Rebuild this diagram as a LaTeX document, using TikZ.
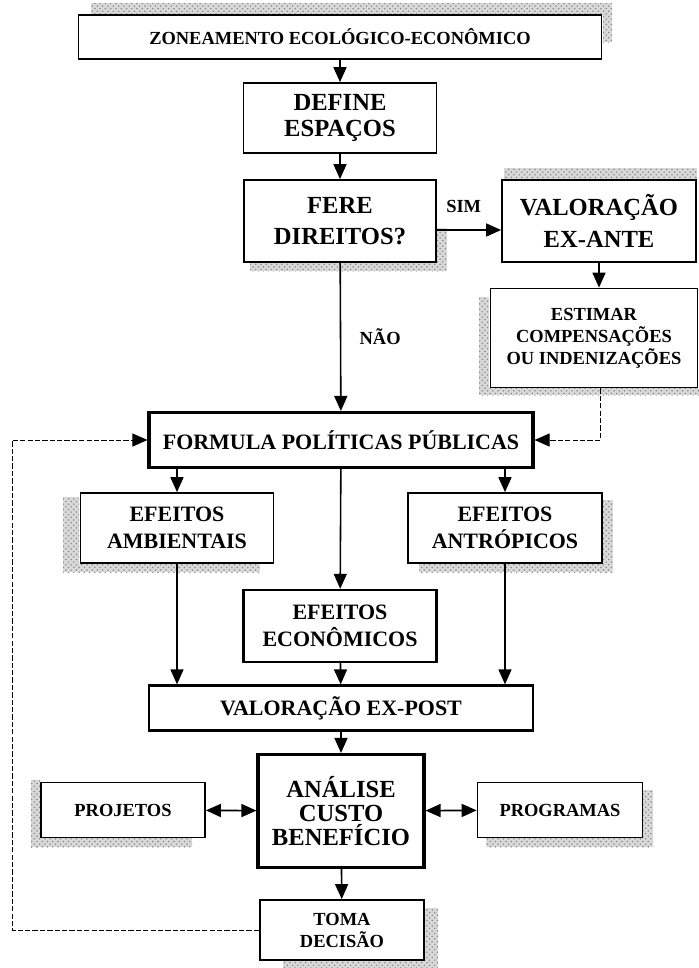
\documentclass[tikz,border=0pt]{standalone}
\usepackage{fontspec}
\setmainfont{Liberation Serif}
\usetikzlibrary{arrows.meta, patterns}

\newcommand{\bigtxt}{\fontsize{14}{15}\selectfont\bfseries}
\newcommand{\midtxt}{\fontsize{12.5}{15}\selectfont\bfseries}
\newcommand{\smalltxt}{\fontsize{10.5}{12.5}\selectfont\bfseries}

\begin{document}
\begin{tikzpicture}[x=0.02cm, y=-0.02cm,
    box/.style={draw, line width=1pt, align=center, inner sep=2pt, font=\midtxt},
    heavy/.style={box, line width=1.8pt},
    link/.style={line width=0.9pt, -{Triangle[length=3mm, width=2.6mm]}},
    twoway/.style={line width=0.9pt, {Triangle[length=3mm, width=2.6mm]}-{Triangle[length=3mm, width=2.6mm]}},
    feedback/.style={line width=0.5pt, dash pattern=on 3pt off 1.2pt, -{Triangle[length=3mm, width=2.6mm]}},
    grain/.style={fill=gray!30, postaction={pattern=crosshatch dots, pattern color=gray!90}}]
        \useasboundingbox (0,0) rectangle (699,968);
        % scanner grain round some of the boxes
        \fill[grain] (91,3) rectangle (612,15);
        \fill[grain] (603,15) rectangle (612,42);
        \fill[grain] (436,228) rectangle (447,270);
        \fill[grain] (250,263) rectangle (447,271);
        \fill[grain] (504,168) rectangle (697,179);
        \fill[grain] (479,297) rectangle (489,394);
        \fill[grain] (479,388) rectangle (699,395);
        \fill[grain] (63,497) rectangle (79,571);
        \fill[grain] (63,564) rectangle (260,572);
        \fill[grain] (603,500) rectangle (613,572);
        \fill[grain] (419,564) rectangle (613,572);
        \fill[grain] (31,780) rectangle (40,847);
        \fill[grain] (31,838) rectangle (192,847);
        \fill[grain] (643,790) rectangle (653,847);
        \fill[grain] (486,838) rectangle (653,847);
        \fill[grain] (425,908) rectangle (438,966);
        \fill[grain] (283,961) rectangle (438,968);
        % top of the chain
        \node[box, font=\smalltxt, minimum width=10.46cm, minimum height=0.88cm] (zee) at (340,37) {ZONEAMENTO ECOLÓGICO-ECONÔMICO};
        \node[box, font=\bigtxt, minimum width=3.86cm, minimum height=1.4cm] (define) at (340,118) {DEFINE\\ESPAÇOS};
        \node[box, font=\bigtxt, minimum width=3.84cm, minimum height=1.64cm] (fere) at (340,221) {FERE\\[3pt]DIREITOS?};
        \node[box, font=\bigtxt, minimum width=3.88cm, minimum height=1.64cm] (exante) at (599,221) {VALORAÇÃO\\[3pt]EX-ANTE};
        \node[box, font=\smalltxt, minimum width=4.14cm, minimum height=1.98cm] (estimar) at (594,338) {ESTIMAR\\COMPENSAÇÕES\\OU INDENIZAÇÕES};
        % policies and their effects
        \node[heavy, minimum width=7.68cm, minimum height=1.1cm] (formula) at (341,440) {FORMULA POLÍTICAS PÚBLICAS};
        \node[box, minimum width=3.86cm, minimum height=1.4cm] (ambientais) at (177,528) {EFEITOS\\AMBIENTAIS};
        \node[box, minimum width=3.88cm, minimum height=1.4cm] (antropicos) at (505,528) {EFEITOS\\ANTRÓPICOS};
        \node[heavy, line width=1.4pt, minimum width=3.86cm, minimum height=1.44cm] (economicos) at (340,626) {EFEITOS\\ECONÔMICOS};
        \node[box, line width=1.3pt, minimum width=7.68cm, minimum height=0.9cm] (expost) at (341,708) {VALORAÇÃO EX-POST};
        % analysis and decision
        \node[heavy, font={\fontsize{14}{13.5}\selectfont\bfseries}, minimum width=3.32cm, minimum height=2.26cm] (analise) at (341,811) {ANÁLISE\\CUSTO\\BENEFÍCIO};
        \node[box, font=\smalltxt, minimum width=3.28cm, minimum height=1.1cm] (projetos) at (123,810) {PROJETOS};
        \node[box, font=\smalltxt, minimum width=3.3cm, minimum height=1.1cm] (programas) at (560,810) {PROGRAMAS};
        \node[box, font=\smalltxt, minimum width=3.28cm, minimum height=1.2cm] (decisao) at (342,930) {TOMA\\DECISÃO};
        \coordinate (back) at (12,0);

        \draw[link] (zee) -- (define);
        \draw[link] (define) -- (fere);
        \draw[link] ([yshift=-0.18cm]fere.east) -- ([yshift=-0.18cm]exante.west)
            node[midway, above, font=\smalltxt, xshift=-3pt, yshift=6pt] {SIM};
        \draw[link] (exante) -- (estimar.north -| exante);
        \draw[link] (fere) -- (formula)
            node[midway, right=0.25cm, font=\smalltxt] {NÃO};
        \draw[feedback] (estimar.south -| 600,0) -- (600,440) -- (formula.east);
        \draw[link] (formula.south -| ambientais) -- (ambientais);
        \draw[link] (formula.south -| antropicos) -- (antropicos);
        \draw[link] (formula) -- (economicos);
        \draw[link] (ambientais) -- (expost.north -| ambientais);
        \draw[link] (antropicos) -- (expost.north -| antropicos);
        \draw[link] (economicos) -- (expost);
        \draw[link] (expost) -- (analise);
        \draw[twoway] (projetos) -- (analise);
        \draw[twoway] (analise) -- (programas);
        \draw[link] (analise) -- (decisao);
        \draw[feedback] (decisao.west) -- (back |- decisao.west) -- (back |- formula.west) -- (formula.west);
\end{tikzpicture}
\end{document}
